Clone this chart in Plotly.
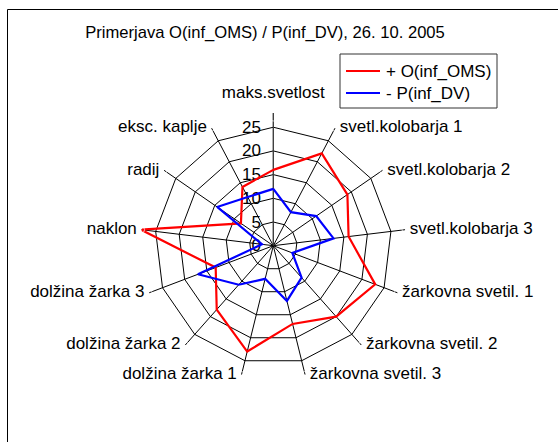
import plotly.graph_objects as go

categories = ["maks.svetlost", "svetl.kolobarja 1", "svetl.kolobarja 2", "svetl.kolobarja 3",
              "žarkovna svetil. 1", "žarkovna svetil. 2", "žarkovna svetil. 3",
              "dolžina žarka 1", "dolžina žarka 2", "dolžina žarka 3",
              "naklon", "radij", "eksc. kaplje"]
oms_values = [16, 22, 19, 16, 23, 20, 17, 23, 18, 13, 28.2, 8.3, 14]
dv_values = [12, 8, 11, 12.8, 4.3, 9, 12, 7.2, 11, 17, 2.4, 14.4, 11.6]
radial_ticks = [0, 5, 10, 15, 20, 25]
series_names = ["+ O(inf_OMS)", "- P(inf_DV)"]
series_colors = ["#ff0000", "#0000ff"]

W, H = 558, 442
FONT = "Liberation Sans, Arial, sans-serif"
R_MAX = 28

def closed(v):
    return list(v) + [v[0]]

def px(x):
    return x / W

def py(y):
    return 1 - y / H

fig = go.Figure()
for vals, name, col in zip([oms_values, dv_values], series_names, series_colors):
    fig.add_trace(go.Scatterpolar(r=closed(vals), theta=closed(categories), mode="lines",
                                  name=name, showlegend=False, cliponaxis=False,
                                  line=dict(color=col, width=2.2)))

# category labels placed beside the spoke ends (Excel-like placement)
n = len(categories)
label_pos = ["top center"] + ["middle right"] * 6 + ["middle left"] * 6
label_gap = [16] + [6] * (n - 1)   # invisible marker sizes -> text offset from spoke end
fig.add_trace(go.Scatterpolar(r=[R_MAX] * n, theta=categories, mode="markers+text", text=categories,
                              textposition=label_pos, cliponaxis=False, showlegend=False,
                              hoverinfo="skip",
                              marker=dict(size=label_gap, color="rgba(0,0,0,0)"),
                              textfont=dict(family=FONT, size=17, color="black")))

shapes = [
    dict(type="line", xref="paper", yref="paper", x0=px(7.5), x1=1, y0=py(9.5), y1=py(9.5),
         line=dict(color="black", width=1)),
    dict(type="line", xref="paper", yref="paper", x0=px(7.5), x1=px(7.5), y0=0, y1=py(9.5),
         line=dict(color="black", width=1)),
    dict(type="rect", xref="paper", yref="paper", x0=px(340), x1=px(497), y0=py(108), y1=py(54),
         line=dict(color="#333333", width=1), fillcolor="white", layer="above"),
]
annotations = []
legend_rows = [71, 93]
for name, col, yy in zip(series_names, series_colors, legend_rows):
    shapes.append(dict(type="line", xref="paper", yref="paper", x0=px(346), x1=px(380),
                       y0=py(yy), y1=py(yy), line=dict(color=col, width=2.2)))
    annotations.append(dict(text=name, xref="paper", yref="paper", x=px(384), y=py(yy),
                            xanchor="left", yanchor="middle", showarrow=False,
                            font=dict(family=FONT, size=17, color="black")))

cx, cy, R = 273.3, 245.7, 132.7
fig.update_layout(
    width=W, height=H,
    margin=dict(l=0, r=0, t=0, b=0, autoexpand=False),
    paper_bgcolor="white", plot_bgcolor="white",
    font=dict(family=FONT, size=17, color="black"),
    title=dict(text="Primerjava O(inf_OMS) / P(inf_DV), 26. 10. 2005",
               x=px(265), y=py(32), xanchor="center", yanchor="middle",
               font=dict(family=FONT, size=16.6, color="black")),
    showlegend=False,
    polar=dict(
        domain=dict(x=[px(cx - R), px(cx + R)], y=[py(cy + R), py(cy - R)]),
        bgcolor="white",
        gridshape="linear",
        angularaxis=dict(direction="clockwise", rotation=90, showline=False,
                         gridcolor="black", gridwidth=1, ticks="", showticklabels=False,
                         layer="below traces"),
        radialaxis=dict(range=[0, R_MAX], angle=90, tickangle=90, side="counterclockwise",
                        tickvals=radial_ticks, ticktext=[str(t) for t in radial_ticks],
                        showline=True, linecolor="#444444", linewidth=1,
                        gridcolor="black", gridwidth=1,
                        ticks="outside", ticklen=6, tickcolor="rgba(0,0,0,0)",
                        tickfont=dict(family=FONT, size=17, color="black"),
                        layer="below traces"),
    ),
    shapes=shapes,
    annotations=annotations,
)

fig.write_html("out.html", config={"displayModeBar": False},
               post_script="document.body.style.margin='0';")
